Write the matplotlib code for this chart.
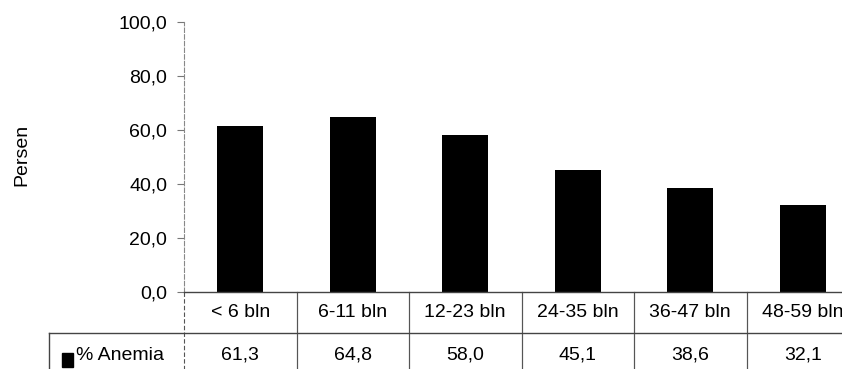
import numpy as np
import matplotlib
matplotlib.use('Agg')
import matplotlib.pyplot as plt
from matplotlib.transforms import blended_transform_factory
from matplotlib.patches import Rectangle

plt.rcParams['font.family'] = ['Liberation Sans', 'DejaVu Sans']

# data
categories = ['< 6 bln', '6-11 bln', '12-23 bln', '24-35 bln', '36-47 bln', '48-59 bln']
anemia = [61.3, 64.8, 58.0, 45.1, 38.6, 32.1]
series_name = '% Anemia'
y_ticks = [0, 20, 40, 60, 80, 100]

fs = 14

fig = plt.figure(figsize=(8.42, 3.69), dpi=100)
# axes runs a bit past the right edge, as in the scan
ax = fig.add_axes([184 / 842, 77 / 369, 675 / 842, 270 / 369])

x = np.arange(len(categories))
ax.bar(x, anemia, width=0.41, color='black', zorder=2)

ax.set_xlim(-0.5, len(categories) - 0.5)
ax.set_ylim(0, 100)
ax.set_yticks(y_ticks)
ax.set_yticklabels([('%.1f' % v).replace('.', ',') for v in y_ticks])
ax.set_xticks([])
ax.tick_params(axis='y', labelsize=fs, length=5, width=0.8, color='#777777', pad=7)

for s in ['top', 'right']:
    ax.spines[s].set_visible(False)
ax.spines['left'].set_color('#888888')
ax.spines['left'].set_linestyle((0, (4, 2)))
ax.spines['left'].set_linewidth(0.8)
ax.spines['bottom'].set_color('#444444')
ax.spines['bottom'].set_linewidth(1.0)

ax.set_ylabel('Persen', fontsize=fs)
ax.yaxis.set_label_coords(-(184 - 30) / 675, (292 - 155) / 270)

# data table below the axis
tr = blended_transform_factory(ax.transData, ax.transAxes)
row_line = -41 / 270
fig_bottom = -77 / 270

# vertical lines between columns, running down through the table
for i in range(len(categories)):
    ls = (0, (4, 2)) if i == 0 else '-'
    ax.plot([i - 0.5, i - 0.5], [0, fig_bottom], transform=tr, color='#555555',
            lw=0.8, ls=ls, clip_on=False)
    ax.plot([i + 0.5, i + 0.5], [0, fig_bottom], transform=tr, color='#555555',
            lw=0.8, clip_on=False)

# horizontal line under the category row, reaching left over the legend cell
row_y = 1 - 333 / 369
ax.plot([49 / 842, 1.0], [row_y, row_y], transform=fig.transFigure,
        color='#444444', lw=1.0, clip_on=False)
ax.plot([49 / 842, 49 / 842], [row_y, 0], transform=fig.transFigure,
        color='#444444', lw=1.0, clip_on=False)

for i, (cat, val) in enumerate(zip(categories, anemia)):
    ax.text(i, row_line / 2, cat, transform=tr, ha='center', va='center',
            fontsize=fs, clip_on=False)
    ax.text(i, -(355 - 292) / 270, ('%.1f' % val).replace('.', ','), transform=tr,
            ha='center', va='center', fontsize=fs, clip_on=False)

# legend key in the table row
fig.patches.append(Rectangle((62 / 842, 2 / 369), 11 / 842, 14 / 369,
                             transform=fig.transFigure, color='black'))
fig.text(76 / 842, 1 - 356 / 369, series_name, ha='left', va='center', fontsize=fs)

fig.savefig('out.png', dpi=100)
